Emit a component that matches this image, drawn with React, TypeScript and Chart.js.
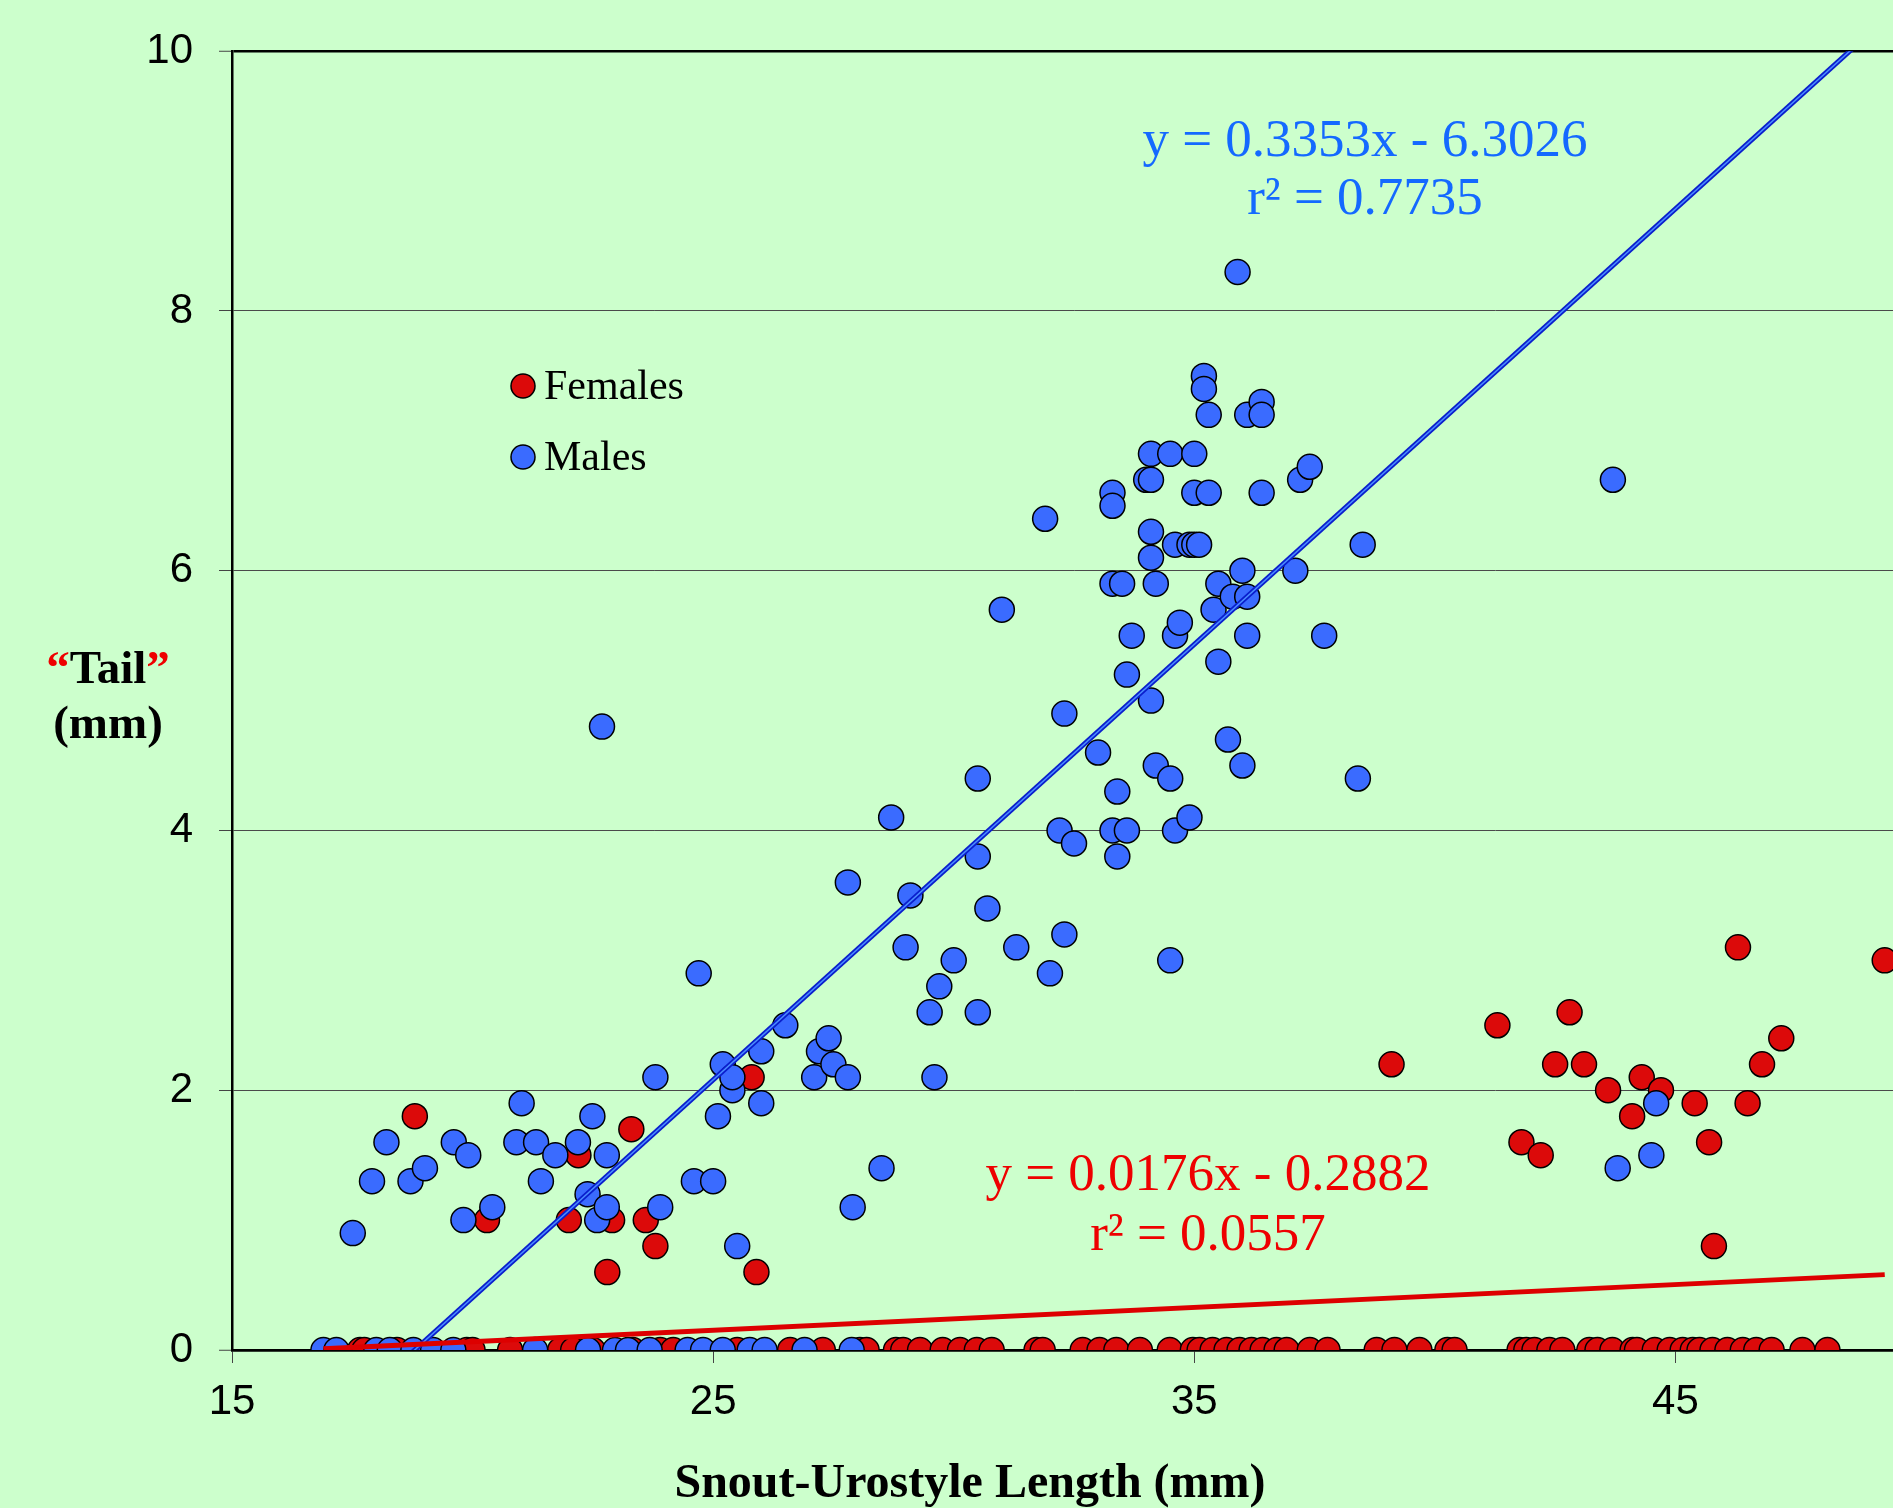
import React, { useEffect, useRef } from "react";
import { Chart, registerables } from "chart.js";

Chart.register(...registerables);

// ---------- DATA ----------
// Males: snout-urostyle length (mm) and "tail" length (mm)
const maleSUL = [
  16.9, 17.17, 18.0, 18.28, 18.77, 19.18, 19.6, 21.3, 22.4, 22.96, 23.23, 23.68, 24.47, 24.79, 25.2, 25.76, 26.07, 26.9, 27.88,
  17.51, 17.91, 18.21, 18.71, 19.01, 19.61, 19.81, 19.91, 20.41, 20.91, 21.02, 21.32, 21.42, 21.72, 22.19, 22.49, 22.39, 22.59,
  22.79, 22.79, 22.69, 23.8, 23.9, 24.6, 24.7, 25.0, 25.1, 25.2, 25.4, 25.4, 25.5, 26.0, 26.0, 26.5, 27.1, 27.2, 27.4, 27.5,
  27.8, 27.8, 27.9, 28.5, 28.7, 29.0, 29.1, 29.5, 29.6, 29.7, 30.0, 30.5, 30.5, 30.5, 30.7, 31.0, 31.3, 31.9, 32.0, 32.2,
  32.3, 32.3, 32.5, 33.0, 33.3, 33.3, 33.3, 33.3, 33.4, 33.4, 33.5, 33.6, 33.6, 33.7, 34.0, 34.1, 34.1, 34.1, 34.1, 34.1,
  34.2, 34.2, 34.5, 34.5, 34.5, 34.6, 34.6, 34.6, 34.7, 34.9, 34.9, 35.0, 35.0, 35.0, 35.1, 35.2, 35.2, 35.3, 35.3, 35.4,
  35.5, 35.5, 35.7, 35.8, 35.9, 36.0, 36.0, 36.1, 36.1, 36.1, 36.4, 36.4, 36.4, 37.1, 37.2, 37.4, 37.7, 38.4, 38.5, 43.7,
  43.8, 44.5, 44.6,
];
const maleTail = [
  0, 0, 0, 0, 0, 0, 0, 0, 0, 0, 0, 0, 0, 0, 0, 0, 0, 0, 0,
  0.9, 1.3, 1.6, 1.3, 1.4, 1.6, 1.0, 1.5, 1.1, 1.6, 1.9, 1.6, 1.3, 1.5, 1.6, 1.8, 1.2, 1.0,
  1.1, 1.5, 4.8, 2.1, 1.1, 1.3, 2.9, 1.3, 1.8, 2.2, 2.0, 2.1, 0.8, 2.3, 1.9, 2.5, 2.1, 2.3, 2.4, 2.2,
  2.1, 3.6, 1.1, 1.4, 4.1, 3.1, 3.5, 2.6, 2.1, 2.8, 3.0, 4.4, 3.8, 2.6, 3.4, 5.7, 3.1, 6.4, 2.9, 4.0,
  4.9, 3.2, 3.9, 4.6, 6.6, 6.5, 5.9, 4.0, 4.3, 3.8, 5.9, 4.0, 5.2, 5.5, 6.7, 6.9, 6.7, 6.3, 6.1, 5.0,
  5.9, 4.5, 6.9, 4.4, 3.0, 6.2, 5.5, 4.0, 5.6, 6.2, 4.1, 6.9, 6.6, 6.2, 6.2, 7.5, 7.4, 7.2, 6.6, 5.7,
  5.9, 5.3, 4.7, 5.8, 8.3, 6.0, 4.5, 7.2, 5.8, 5.5, 7.3, 7.2, 6.6, 6.0, 6.7, 6.8, 5.5, 4.4, 6.2, 6.7,
  1.4, 1.5, 1.9,
];

// Females
const femaleSUL = [
  17.66, 17.75, 18.43, 19.88, 20.0, 20.78, 21.82, 22.09, 22.5, 23.33, 23.9, 24.17, 25.5, 26.6, 27.28, 28.05, 28.19, 28.8,
  28.95, 29.3, 29.77, 30.13, 30.48, 30.79, 31.72, 31.85, 32.68, 33.03, 33.38, 33.87, 34.49, 34.97, 35.11, 35.38, 35.67,
  35.94, 36.19, 36.42, 36.71, 36.92, 37.4, 37.77, 38.79, 39.16, 39.68, 40.26, 40.41, 41.76, 41.9, 42.07, 42.38, 42.65,
  43.21, 43.38, 43.69, 44.11, 44.2, 44.57, 44.88, 45.15, 45.36, 45.5, 45.77, 46.08, 46.4, 46.68, 47.0, 47.64, 48.16,
  18.8, 20.3, 22.0, 22.2, 22.8, 22.9, 23.3, 23.6, 23.8, 25.8, 25.9, 39.1, 41.3, 41.8, 42.2, 42.5, 42.8, 43.1, 43.6, 44.1,
  44.3, 44.7, 45.4, 45.7, 45.8, 46.3, 46.5, 46.8, 47.2, 49.35,
];
const femaleTail = [
  0, 0, 0, 0, 0, 0, 0, 0, 0, 0, 0, 0, 0, 0, 0, 0, 0, 0,
  0, 0, 0, 0, 0, 0, 0, 0, 0, 0, 0, 0, 0, 0, 0, 0, 0,
  0, 0, 0, 0, 0, 0, 0, 0, 0, 0, 0, 0, 0, 0, 0, 0, 0,
  0, 0, 0, 0, 0, 0, 0, 0, 0, 0, 0, 0, 0, 0, 0, 0, 0,
  1.8, 1.0, 1.0, 1.5, 0.6, 1.0, 1.7, 1.0, 0.8, 2.1, 0.6, 2.2, 2.5, 1.6, 1.5, 2.2, 2.6, 2.2, 2.0, 1.8,
  2.1, 2.0, 1.9, 1.6, 0.8, 3.1, 1.9, 2.2, 2.4, 3.0,
];

const xTicks = [15, 25, 35, 45];
const yTicks = [0, 2, 4, 6, 8, 10];

const maleFit = { slope: 0.3353, intercept: -6.3026 };
const femaleFit = { slope: 0.0176, intercept: -0.2882 };
const maleEquation = ["y = 0.3353x - 6.3026", "r\u00B2 = 0.7735"];
const femaleEquation = ["y = 0.0176x - 0.2882", "r\u00B2 = 0.0557"];
const legendLabels = ["Females", "Males"];
const xTitle = "Snout-Urostyle Length (mm)";
const yTitleWord = "Tail";
const yTitleUnit = "(mm)";

// ---------- STYLE ----------
const BG = "#CCFFCC";
const RED = "#DC0A0A";
const BLUE = "#3A6BFF";
const BLUE_TEXT = "#1469FF";
const RED_TEXT = "#EE0000";
const SERIF = "'Liberation Serif', 'Times New Roman', serif";
const SANS = "'Liberation Sans', Arial, sans-serif";

const toPoints = (xs: number[], ys: number[]) => xs.map((x, i) => ({ x, y: ys[i] }));

export default function App() {
  const canvasRef = useRef<HTMLCanvasElement | null>(null);

  useEffect(() => {
    const canvas = canvasRef.current;
    if (!canvas) return;

    const allX = [...maleSUL, ...femaleSUL];
    const xMin = Math.min(...allX);
    const xMax = Math.max(...allX);
    const fitLine = (f: { slope: number; intercept: number }) => [
      { x: xMin, y: f.slope * xMin + f.intercept },
      { x: xMax, y: f.slope * xMax + f.intercept },
    ];

    const overlay = {
      id: "overlay",
      afterDraw(chart: any) {
        const ctx = chart.ctx as CanvasRenderingContext2D;
        ctx.save();
        // legend
        const legendItems = [
          { label: legendLabels[0], color: RED, y: 386 },
          { label: legendLabels[1], color: BLUE, y: 457 },
        ];
        ctx.font = `42px ${SERIF}`;
        ctx.textBaseline = "alphabetic";
        ctx.textAlign = "left";
        for (const it of legendItems) {
          ctx.beginPath();
          ctx.arc(523, it.y, 12, 0, Math.PI * 2);
          ctx.fillStyle = it.color;
          ctx.fill();
          ctx.lineWidth = 1.5;
          ctx.strokeStyle = "#000";
          ctx.stroke();
          ctx.fillStyle = "#000";
          ctx.fillText(it.label, 544, it.y + 13);
        }
        // equations
        ctx.textAlign = "center";
        ctx.font = `53px ${SERIF}`;
        ctx.fillStyle = BLUE_TEXT;
        ctx.fillText(maleEquation[0], 1365, 156);
        ctx.fillText(maleEquation[1], 1365, 214);
        ctx.fillStyle = RED_TEXT;
        ctx.fillText(femaleEquation[0], 1208, 1190);
        ctx.fillText(femaleEquation[1], 1208, 1250);
        // x title
        ctx.font = `bold 48px ${SERIF}`;
        ctx.fillStyle = "#000";
        ctx.fillText(xTitle, 970, 1497);
        // y title
        ctx.font = `bold 47px ${SERIF}`;
        const q1 = "\u201C";
        const q2 = "\u201D";
        const wq1 = ctx.measureText(q1).width;
        const wt = ctx.measureText(yTitleWord).width;
        const wq2 = ctx.measureText(q2).width;
        const total = wq1 + wt + wq2;
        const x0 = 108 - total / 2;
        ctx.textAlign = "left";
        ctx.fillStyle = RED_TEXT;
        ctx.fillText(q1, x0, 683);
        ctx.fillStyle = "#000";
        ctx.fillText(yTitleWord, x0 + wq1, 683);
        ctx.fillStyle = RED_TEXT;
        ctx.fillText(q2, x0 + wq1 + wt, 683);
        ctx.textAlign = "center";
        ctx.fillStyle = "#000";
        ctx.fillText(yTitleUnit, 108, 738);
        ctx.restore();
      },
    };

    const chart = new Chart(canvas, {
      type: "scatter",
      data: {
        datasets: [
          {
            type: "line",
            label: "Female trend",
            data: fitLine(femaleFit),
            borderColor: "#DD0000",
            borderWidth: 5,
            pointRadius: 0,
            fill: false,
            order: 0,
          } as any,
          {
            type: "line",
            label: "Male trend inner",
            data: fitLine(maleFit),
            borderColor: "#4A8CFF",
            borderWidth: 1.5,
            pointRadius: 0,
            fill: false,
            clip: 0,
            order: 1,
          } as any,
          {
            type: "line",
            label: "Male trend",
            data: fitLine(maleFit),
            borderColor: "#0A1ECC",
            borderWidth: 5,
            pointRadius: 0,
            fill: false,
            clip: 0,
            order: 2,
          } as any,
          {
            label: "Males",
            data: toPoints(maleSUL, maleTail),
            backgroundColor: BLUE,
            borderColor: "#000",
            borderWidth: 1.5,
            pointRadius: 12.5,
            order: 3,
          },
          {
            label: "Females",
            data: toPoints(femaleSUL, femaleTail),
            backgroundColor: RED,
            borderColor: "#000",
            borderWidth: 1.5,
            pointRadius: 12.5,
            order: 4,
          },
        ],
      },
      options: {
        responsive: false,
        animation: false,
        devicePixelRatio: 1,
        layout: { padding: { top: 51, right: 14, bottom: 0, left: 0 } },
        plugins: { legend: { display: false }, tooltip: { enabled: false } },
        scales: {
          x: {
            type: "linear",
            min: 15,
            max: 50,
            afterBuildTicks: (s: any) => {
              s.ticks = xTicks.map((v) => ({ value: v }));
            },
            afterFit: (s: any) => {
              s.height = 158;
            },
            ticks: {
              color: "#000",
              font: { family: SANS, size: 42 },
              padding: 14,
              maxRotation: 0,
            },
            grid: {
              drawOnChartArea: false,
              drawTicks: true,
              tickLength: 13,
              color: "#444",
              lineWidth: 1,
            },
            border: { display: true, color: "#000", width: 2.5 },
          },
          y: {
            type: "linear",
            min: 0,
            max: 10,
            afterBuildTicks: (s: any) => {
              s.ticks = yTicks.map((v) => ({ value: v }));
            },
            afterFit: (s: any) => {
              s.width = 232;
            },
            ticks: {
              color: "#000",
              font: { family: SANS, size: 42 },
              padding: 26,
            },
            grid: {
              drawTicks: true,
              tickLength: 13,
              color: (c: any) => (c.tick && (c.tick.value === 10 || c.tick.value === 0) ? "#000" : "#4a4a4a"),
              lineWidth: (c: any) => (c.tick && (c.tick.value === 10 || c.tick.value === 0) ? 2.5 : 1),
              tickColor: "#444",
              tickWidth: 1,
            },
            border: { display: true, color: "#000", width: 2.5 },
          },
        },
      },
      plugins: [overlay],
    } as any);

    return () => chart.destroy();
  }, []);

  return (
    <div
      style={{
        position: "fixed",
        left: 0,
        top: 0,
        width: "1893px",
        height: "1508px",
        overflow: "hidden",
        background: BG,
      }}
    >
      <canvas ref={canvasRef} width={1930} height={1508} style={{ display: "block" }} />
    </div>
  );
}
